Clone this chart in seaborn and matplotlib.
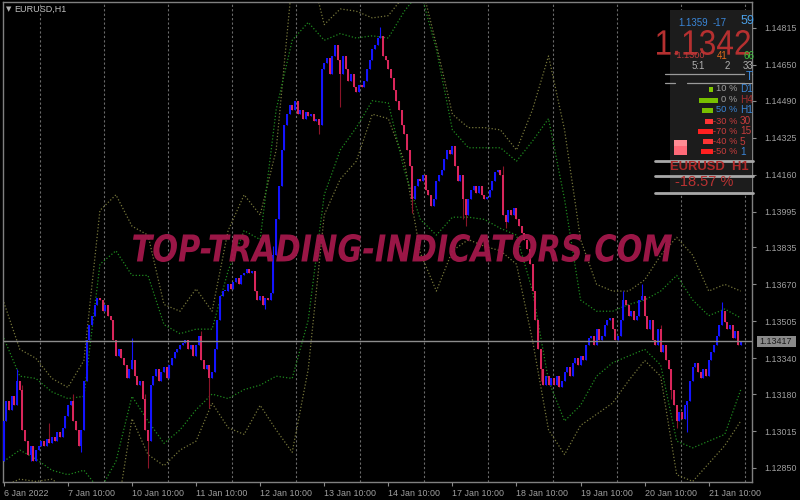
import seaborn as sns
import matplotlib.pyplot as plt
import matplotlib.transforms as mtransforms
from matplotlib.textpath import TextPath
from matplotlib.patches import PathPatch, Rectangle
from matplotlib.lines import Line2D
from matplotlib.font_manager import FontProperties

# EURUSD H1 closes, 6 Jan 10:00 -> 21 Jan 22:00 (one row per day)
first_open = 1.1288
closes = [
    1.1306, 1.1315, 1.1311, 1.1317, 1.1313, 1.1324, 1.1320, 1.1302, 1.1297, 1.1291, 1.1295, 1.1288, 1.1293, 1.1295,
    1.1297, 1.1295, 1.1298, 1.1296, 1.1299, 1.1297, 1.1301, 1.1299, 1.1303, 1.1308, 1.1313, 1.1315, 1.1306, 1.1302, 1.1295, 1.1302, 1.1324, 1.1342, 1.1349, 1.1353, 1.1358, 1.1361, 1.1360, 1.1355,
    1.1358, 1.1353, 1.1351, 1.1342, 1.1335, 1.1338, 1.1334, 1.1331, 1.1325, 1.1329, 1.1333, 1.1326, 1.1322, 1.1324, 1.1316, 1.1302, 1.1297, 1.1322, 1.1326, 1.1329, 1.1324, 1.1328, 1.1330, 1.1325,
    1.1331, 1.1334, 1.1337, 1.1338, 1.1340, 1.1341, 1.1342, 1.1338, 1.1340, 1.1335, 1.1340, 1.1344, 1.1333, 1.1329, 1.1331, 1.1325, 1.1328, 1.1338, 1.1351, 1.1362, 1.1364, 1.1364, 1.1367, 1.1365,
    1.1368, 1.1370, 1.1367, 1.1371, 1.1372, 1.1374, 1.1372, 1.1373, 1.1364, 1.1360, 1.1362, 1.1358, 1.1361, 1.1360, 1.1363, 1.1380, 1.1396, 1.1411, 1.1427, 1.1438, 1.1443, 1.1447, 1.1445, 1.1449,
    1.1443, 1.1445, 1.1441, 1.1444, 1.1442, 1.1443, 1.1440, 1.1441, 1.1438, 1.1463, 1.1466, 1.1468, 1.1461, 1.1469, 1.1474, 1.1467, 1.1461, 1.1469, 1.1463, 1.1458, 1.1461, 1.1455, 1.1453, 1.1456,
    1.1455, 1.1458, 1.1463, 1.1467, 1.1472, 1.1474, 1.1477, 1.1478, 1.1469, 1.1467, 1.1463, 1.1459, 1.1454, 1.1449, 1.1445, 1.1438, 1.1434, 1.1427, 1.1420, 1.1405, 1.1411, 1.1414, 1.1413, 1.1416,
    1.1409, 1.1407, 1.1402, 1.1405, 1.1413, 1.1416, 1.1418, 1.1423, 1.1427, 1.1425, 1.1429, 1.1420, 1.1413, 1.1416, 1.1405, 1.1398, 1.1405, 1.1409, 1.1411, 1.1408, 1.1411, 1.1407, 1.1405, 1.1406,
    1.1409, 1.1413, 1.1417, 1.1418, 1.1416, 1.1398, 1.1395, 1.1400, 1.1398, 1.1401, 1.1396, 1.1393, 1.1390, 1.1387, 1.1383, 1.1376, 1.1364, 1.1351, 1.1338, 1.1329, 1.1322, 1.1326, 1.1322, 1.1325,
    1.1322, 1.1326, 1.1321, 1.1324, 1.1328, 1.1330, 1.1326, 1.1332, 1.1334, 1.1331, 1.1335, 1.1333, 1.1340, 1.1343, 1.1344, 1.1340, 1.1347, 1.1342, 1.1344, 1.1349, 1.1351, 1.1352, 1.1347, 1.1342,
    1.1344, 1.1351, 1.1360, 1.1358, 1.1353, 1.1355, 1.1351, 1.1353, 1.1360, 1.1362, 1.1353, 1.1347, 1.1351, 1.1342, 1.1340, 1.1347, 1.1337, 1.1340, 1.1333, 1.1329, 1.1320, 1.1313, 1.1306, 1.1310,
    1.1307, 1.1313, 1.1315, 1.1324, 1.1330, 1.1332, 1.1328, 1.1325, 1.1329, 1.1326, 1.1333, 1.1337, 1.1340, 1.1344, 1.1349, 1.1355, 1.1350, 1.1347, 1.1349, 1.1343, 1.1346, 1.1340, 1.13417,
]
# long shadows that stick out of the bodies
wick_high = {5: 1.1329, 7: 1.1322, 17: 1.1305, 26: 1.1318, 48: 1.1343, 53: 1.1318, 74: 1.1346,
             101: 1.1384, 122: 1.1468, 141: 1.1482, 160: 1.1407, 187: 1.1420, 200: 1.1350,
             232: 1.1364, 239: 1.1367, 246: 1.1349, 269: 1.1359}
wick_low = {10: 1.1288, 29: 1.1292, 54: 1.1285, 77: 1.1312, 98: 1.1356, 118: 1.1434,
            126: 1.1446, 153: 1.1399, 172: 1.1396, 173: 1.1393, 188: 1.1392, 201: 1.1324,
            250: 1.1316, 252: 1.1303, 256: 1.1301}

# envelope bands, read every 6 bars
band_step = 6
outer_upper = [1.1359, 1.1338, 1.1334, 1.1325, 1.1321, 1.1333, 1.1400, 1.1407, 1.1393, 1.1389, 1.1358, 1.1355,
               1.1365, 1.1355, 1.1391, 1.1407, 1.1398, 1.1427, 1.1503, 1.1512, 1.1483, 1.1490, 1.1489, 1.1486,
               1.1487, 1.1496, 1.1503, 1.1474, 1.1443, 1.1437, 1.1437, 1.1436, 1.1427, 1.1445, 1.1469, 1.1436,
               1.1387, 1.1367, 1.1364, 1.1364, 1.1369, 1.1380, 1.1388, 1.1380, 1.1364, 1.1367, 1.1364]
inner_upper = [1.1343, 1.1326, 1.1325, 1.1319, 1.1316, 1.1317, 1.1376, 1.1382, 1.1371, 1.1371, 1.1349, 1.1345,
               1.1347, 1.1347, 1.1373, 1.1391, 1.1387, 1.1445, 1.1476, 1.1484, 1.1476, 1.1479, 1.1477, 1.1478,
               1.1477, 1.1489, 1.1498, 1.1472, 1.1436, 1.1428, 1.1428, 1.1428, 1.1422, 1.1431, 1.1441, 1.1405,
               1.1360, 1.1355, 1.1355, 1.1358, 1.1360, 1.1364, 1.1371, 1.1360, 1.1353, 1.1356, 1.1352]
inner_lower = [1.1288, 1.1293, 1.1289, 1.1284, 1.1282, 1.1284, 1.1275, 1.1288, 1.1317, 1.1306, 1.1296, 1.1302,
               1.1311, 1.1318, 1.1316, 1.1320, 1.1322, 1.1326, 1.1325, 1.1351, 1.1407, 1.1427, 1.1437, 1.1449,
               1.1448, 1.1418, 1.1396, 1.1389, 1.1397, 1.1397, 1.1396, 1.1392, 1.1389, 1.1364, 1.1324, 1.1306,
               1.1313, 1.1326, 1.1332, 1.1335, 1.1338, 1.1331, 1.1297, 1.1294, 1.1297, 1.1300, 1.1320]
outer_lower = [1.1277, 1.1280, 1.1279, 1.1280, 1.1275, 1.1270, 1.1253, 1.1262, 1.1307, 1.1291, 1.1286, 1.1293,
               1.1297, 1.1314, 1.1303, 1.1300, 1.1313, 1.1302, 1.1292, 1.1329, 1.1398, 1.1414, 1.1422, 1.1443,
               1.1441, 1.1422, 1.1381, 1.1364, 1.1382, 1.1387, 1.1384, 1.1382, 1.1376, 1.1342, 1.1302, 1.1291,
               1.1304, 1.1309, 1.1314, 1.1324, 1.1333, 1.1326, 1.1282, 1.1279, 1.1287, 1.1295, 1.1306]

price_ticks = [1.14815, 1.14650, 1.14490, 1.14325, 1.14160, 1.13995, 1.13835,
               1.13670, 1.13505, 1.13340, 1.13180, 1.13015, 1.12850]
date_labels = ["6 Jan 2022", "7 Jan 10:00", "10 Jan 10:00", "11 Jan 10:00", "12 Jan 10:00", "13 Jan 10:00",
               "14 Jan 10:00", "17 Jan 10:00", "18 Jan 10:00", "19 Jan 10:00", "20 Jan 10:00", "21 Jan 10:00"]
bid = 1.13417

sns.set_theme(style="dark", rc={"axes.facecolor": "black", "figure.facecolor": "black",
                                "axes.edgecolor": "#808080", "axes.grid": False})
plt.rcParams['font.family'] = ['Liberation Sans', 'DejaVu Sans']

fig = plt.figure(figsize=(8, 5), dpi=100)
ax = fig.add_axes([3 / 800, 18 / 500, 749 / 800, 480 / 500])
ax.set_facecolor("black")

n = len(closes)
opens = [first_open] + closes[:-1]
idx = list(range(n))

# day separators
for k in range(12):
    ax.axvline(13.5 + 24 * k, color="#6a6a6a", lw=0.8, ls=(0, (2, 2)), zorder=1)

# bands
band_x = list(range(0, n, band_step))
for vals, col in [(outer_upper, "#76763a"), (outer_lower, "#76763a"),
                  (inner_upper, "#1f8a1f"), (inner_lower, "#1f8a1f")]:
    sns.lineplot(x=band_x, y=vals, ax=ax, color=col, linewidth=0.9,
                 linestyle=(0, (1, 1.6)), zorder=2)

# candles
up = [c >= o for o, c in zip(opens, closes)]
body_col = ["#1414ff" if u else "#d9265b" for u in up]
wick_col = ["#1414ff" if u else "#8a1428" for u in up]
bottoms = [min(o, c) for o, c in zip(opens, closes)]
heights = [max(abs(c - o), 0.00003) for o, c in zip(opens, closes)]
highs = [wick_high.get(i, max(o, c)) for i, (o, c) in enumerate(zip(opens, closes))]
lows = [wick_low.get(i, min(o, c)) for i, (o, c) in enumerate(zip(opens, closes))]
ax.vlines(idx, lows, highs, colors=wick_col, lw=0.8, zorder=3)
ax.bar(idx, heights, bottom=bottoms, width=0.75, color=body_col, linewidth=0, zorder=4)

ax.axhline(bid, color="#8c8c8c", lw=1, zorder=5)

ax.set_xlim(-0.3, 280.2)
ax.set_ylim(1.127874, 1.14931)
ax.set_xlabel("")
ax.set_ylabel("")
ax.yaxis.tick_right()
ax.set_yticks(price_ticks)
ax.set_yticklabels([f"{p:.5f}" for p in price_ticks])
ax.set_xticks(list(range(0, 265, 24)))
ax.set_xticklabels(date_labels)
for lab in ax.get_xticklabels():
    lab.set_ha("left")
ax.tick_params(axis="y", right=True, left=False, length=3, width=0.8, color="#8a8a8a",
               pad=6, labelcolor="#a0a0a0", labelsize=6.4)
ax.tick_params(axis="x", bottom=True, length=3, width=0.8, color="#8a8a8a",
               pad=2, labelcolor="#a0a0a0", labelsize=6.4)
for s in ax.spines.values():
    s.set_color("#808080")
    s.set_linewidth(1)


def fx(x):
    return x / 800


def fy(y):
    return 1 - y / 500


def box(x0, y0, x1, y1, color, z=6):
    fig.add_artist(Rectangle((fx(x0), fy(y1)), (x1 - x0) / 800, (y1 - y0) / 500,
                             transform=fig.transFigure, facecolor=color, edgecolor="none", zorder=z))


def hline(y, x0, x1, color="#a8a8a8", lw=1.0):
    fig.add_artist(Line2D([fx(x0), fx(x1)], [fy(y), fy(y)], transform=fig.transFigure,
                          color=color, lw=lw, zorder=7))


def label(x, y, s, color, size, ha="left", weight="normal", family="Liberation Sans"):
    return fig.text(fx(x), fy(y), s, color=color, fontsize=size, ha=ha, va="center",
                    fontweight=weight, family=[family, "DejaVu Sans"], zorder=10)


def fitted(s, x0, y0, x1, y1, color, family, weight="normal", style="normal", alpha=1.0, z=9):
    fp = FontProperties(family=family, weight=weight, style=style)
    tp = TextPath((0, 0), s, size=50, prop=fp)
    bb = tp.get_extents()
    tr = (mtransforms.Affine2D().translate(-bb.x0, -bb.y0)
          .scale((x1 - x0) / bb.width, (y1 - y0) / bb.height)
          .translate(x0, 500 - y1).scale(1 / 800, 1 / 500) + fig.transFigure)
    fig.add_artist(PathPatch(tp, transform=tr, facecolor=color, edgecolor="none",
                             alpha=alpha, zorder=z))


# header
label(6, 9, "\u25bc", "#b0b0b0", 5, family="DejaVu Sans")
label(14, 9, "EURUSD,H1", "#c0c0c0", 6.5)

# bid price marker on the axis
box(757, 336, 796, 347, "#8a8a8a")
label(759, 341.5, f"{bid:.5f}", "#1a1a1a", 6.4)

# watermark
fitted("TOP-TRADING-INDICATORS.COM", 133, 234, 672, 262, "#a3184b",
       "DejaVu Sans", weight="bold", style="italic", alpha=0.95)

# info panel
box(670, 10, 752, 195, "#1c1c1c")
label(678, 23, "1.1359", "#3a86d8", 7)
label(713, 23, "-17", "#3a86d8", 7)
label(741, 21, "59", "#4aa0e8", 9)
fitted("1.1342", 657, 30, 750, 55, "#b53030", "Liberation Sans", z=8)
label(674, 55.5, "*1.1300", "#c03c3c", 6.6)
label(717, 56, "41", "#e06a1a", 7)
label(743, 56, "66", "#3cc83c", 7)
label(692, 66, "5:1", "#b0b0b0", 7)
label(725, 66, "2", "#b0b0b0", 7)
label(743, 66, "33", "#b0b0b0", 7)
hline(74, 665, 752, "#9a9a9a", 0.9)
hline(83, 665, 675, "#9a9a9a", 0.9)
hline(83, 687, 752, "#9a9a9a", 0.9)
box(745, 72, 752, 83, "#1c1c1c", z=9)
label(745.5, 77.5, "T", "#3a86d8", 8.5)

rows = [
    (89, 709, 713, "#80c800", "10 %", "#a0a0a0", "D1", "#3a86d8"),
    (100, 699, 718, "#78c000", "0 %", "#a0a0a0", "H4", "#a83030"),
    (110, 702, 713, "#78c000", "50 %", "#3a86d8", "H1", "#3a86d8"),
    (121, 705, 713, "#ff3434", "-30 %", "#c83c3c", "30", "#c83c3c"),
    (131, 698, 713, "#ff2020", "-70 %", "#c83c3c", "15", "#c83c3c"),
    (142, 703, 713, "#ff3434", "-40 %", "#c83c3c", "5", "#c83c3c"),
    (152, 701, 713, "#ff2020", "-50 %", "#c83c3c", "1", "#3a86d8"),
]
for y, b0, b1, bc, pct, pc, tf, tc in rows:
    box(b0, y - 2.5, b1, y + 2.5, bc, z=7)
    label(737.5, y, pct, pc, 6.7, ha="right")
    label(740, y, tf, tc, 7.2)
box(674, 140, 687, 155, "#ff6a78", z=7)
box(674, 140, 687, 146, "#ff8c94", z=7)

hline(161, 655, 753, "#a8a8a8", 2)
hline(176, 655, 753, "#a8a8a8", 2)
hline(193, 655, 753, "#a8a8a8", 2)
label(670, 167.5, "EURUSD  H1", "#b02a2a", 9.4, weight="bold")
label(675, 182, "-18.57 %", "#b83232", 10.5)

fig.savefig("out.png", dpi=100, facecolor="black")
